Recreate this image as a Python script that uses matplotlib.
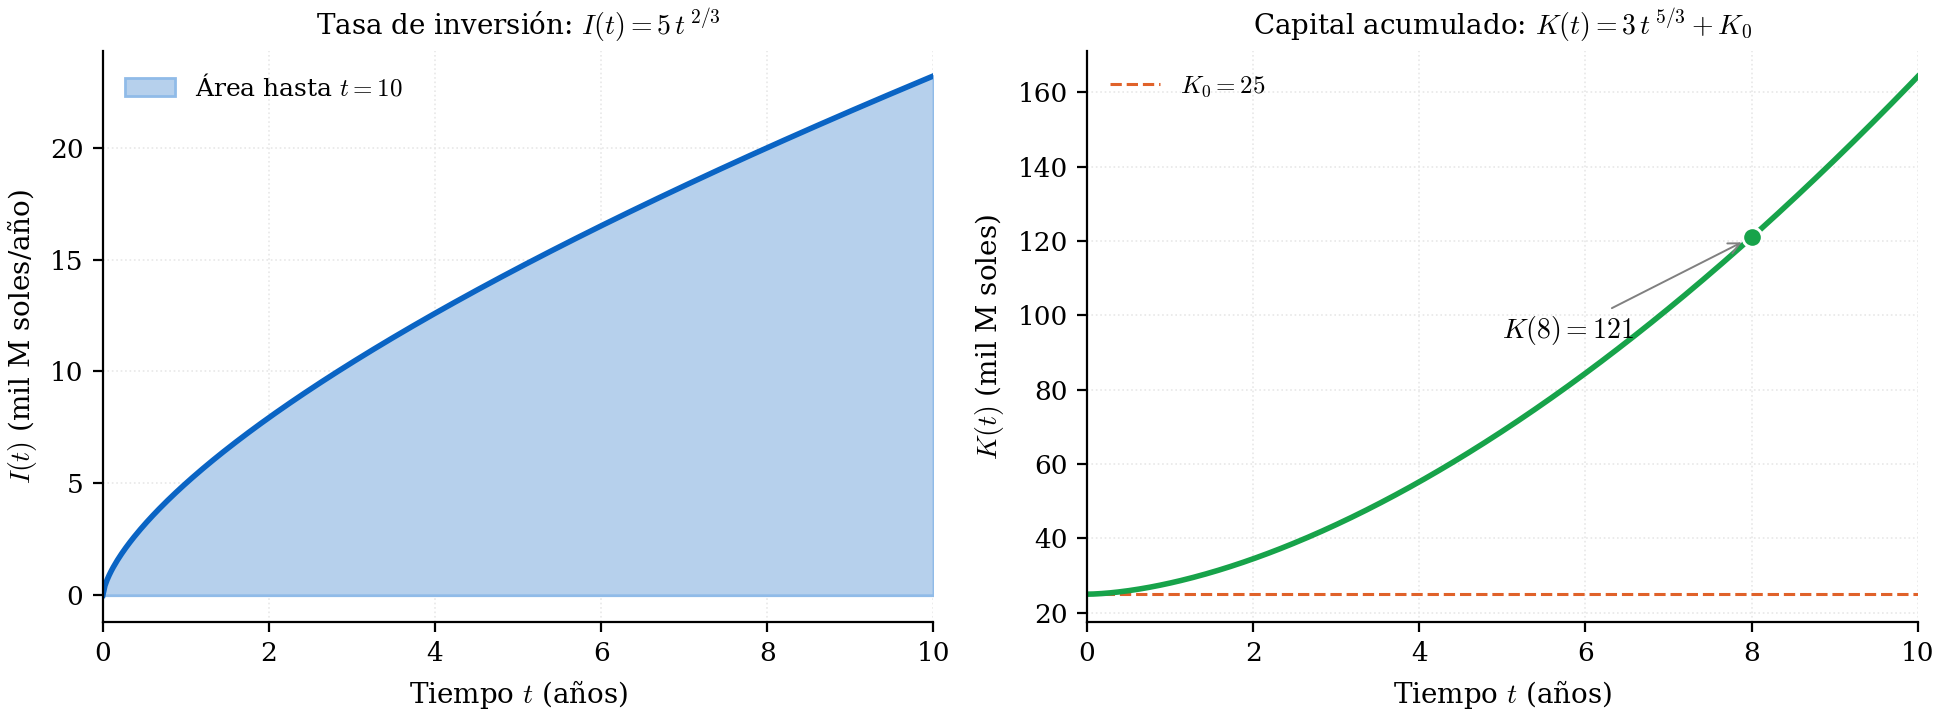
import numpy as np
import matplotlib
matplotlib.use("Agg")
import matplotlib.pyplot as plt

# ------------------------------------------
# DATA (parameters of the plotted functions)
# ------------------------------------------
t_max = 10
coef_I, exp_I = 5, 2 / 3
coef_K, exp_K = 3, 5 / 3
K0 = 25
t_mark = 8
K_mark = 121
label_pos = (5.0, 94)

t = np.linspace(0, t_max, 400)
inversion = coef_I * t ** exp_I
capital = coef_K * t ** exp_K + K0

plt.rcParams["font.family"] = "DejaVu Serif"
plt.rcParams["mathtext.fontset"] = "cm"
plt.rcParams["font.size"] = 9.5

fig, (ax1, ax2) = plt.subplots(1, 2, figsize=(9.705, 3.575), dpi=200)
fig.subplots_adjust(left=0.053, right=0.988, top=0.928, bottom=0.13, wspace=0.185)

# ------------------------------------------
# TASA DE INVERSION
# ------------------------------------------
blue = "#0a64c4"
ax1.fill_between(t, 0, inversion, color="#b6d0ec", edgecolor="#90bbe8",
                 linewidth=1.0, label=r"Área hasta $t=10$")
ax1.plot(t, inversion, color=blue, linewidth=2)
ax1.set_xlim(0, t_max)
ax1.set_ylim(-1.2, 24.3)
ax1.set_xticks([0, 2, 4, 6, 8, 10])
ax1.set_yticks([0, 5, 10, 15, 20])
ax1.set_title(r"Tasa de inversión: $I(t) = 5\,t^{\,2/3}$", fontsize=10, pad=6)
ax1.set_xlabel(r"Tiempo $t$ (años)", fontsize=10)
ax1.set_ylabel(r"$I(t)$ (mil M soles/año)", fontsize=10)
ax1.legend(loc="upper left", frameon=False, fontsize=9)

# ------------------------------------------
# CAPITAL ACUMULADO
# ------------------------------------------
green = "#17a34a"
ax2.axhline(K0, color="#e0622a", linestyle="--", linewidth=1.1, label=r"$K_0 = 25$")
ax2.plot(t, capital, color=green, linewidth=2)
ax2.plot([t_mark], [K_mark], "o", color=green, markersize=7,
         markeredgecolor="white", markeredgewidth=1.0, zorder=5)
ax2.annotate(r"$K(8) = 121$", xy=(t_mark, K_mark), xytext=label_pos,
             fontsize=10, arrowprops=dict(arrowstyle="->", color="gray", lw=0.7,
                                          shrinkA=0, shrinkB=4))
ax2.set_xlim(0, t_max)
ax2.set_ylim(17.5, 171)
ax2.set_xticks([0, 2, 4, 6, 8, 10])
ax2.set_yticks([20, 40, 60, 80, 100, 120, 140, 160])
ax2.set_title(r"Capital acumulado: $K(t) = 3\,t^{\,5/3} + K_0$", fontsize=10, pad=6)
ax2.set_xlabel(r"Tiempo $t$ (años)", fontsize=10)
ax2.set_ylabel(r"$K(t)$ (mil M soles)", fontsize=10)
ax2.legend(loc="upper left", frameon=False, fontsize=9)

for ax in (ax1, ax2):
    ax.grid(True, linestyle=":", color="#e8e8e8", linewidth=0.6)
    ax.spines["top"].set_visible(False)
    ax.spines["right"].set_visible(False)
    ax.set_axisbelow(True)

plt.savefig("out.png", dpi=200)
